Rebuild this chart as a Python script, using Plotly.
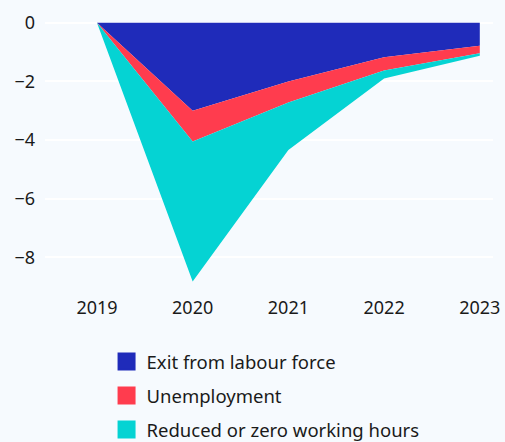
import plotly.graph_objects as go

years = [2019, 2020, 2021, 2022, 2023]
exit_labour_force = [0.0, -3.0, -2.0, -1.18, -0.79]
unemployment = [0.0, -1.05, -0.72, -0.45, -0.25]
reduced_hours = [0.0, -4.77, -1.62, -0.27, -0.09]

series = [
    ("Exit from labour force", exit_labour_force, "#1F2BBA"),
    ("Unemployment", unemployment, "#FF3C4E"),
    ("Reduced or zero working hours", reduced_hours, "#05D3D3"),
]

y_ticks = [0, -2, -4, -6, -8]
y_tick_text = ["0", "\u22122", "\u22124", "\u22126", "\u22128"]

font_family = "Noto Sans"
bg = "#F6FAFE"

fig = go.Figure()

# stacked areas
for name, values, color in series:
    fig.add_trace(go.Scatter(
        x=years, y=values, name=name, stackgroup="one",
        mode="lines", line=dict(width=0, color=color),
        fillcolor=color, showlegend=False, hoverinfo="skip",
    ))

# square legend swatches
for i, (name, values, color) in enumerate(series):
    fig.add_trace(go.Scatter(
        x=[None], y=[None], name=name, mode="markers",
        marker=dict(symbol="square", size=16, color=color,
                    line=dict(width=2, color=color)),
        legendgroup=f"g{i}", showlegend=True,
    ))

fig.update_layout(
    width=505, height=442,
    margin=dict(l=45, r=12, t=8, b=149, autoexpand=False),
    paper_bgcolor=bg, plot_bgcolor=bg,
    font=dict(family=font_family, size=18, color="#1a1a1a"),
    showlegend=True,
    legend=dict(
        orientation="v", xref="container", x=0.211, xanchor="left",
        yref="container", y=0.224, yanchor="top",
        traceorder="grouped", tracegroupgap=7,
        font=dict(size=18.5), bgcolor="rgba(0,0,0,0)",
    ),
    xaxis=dict(
        range=[2018.457, 2023.138], tickvals=years,
        showgrid=False, zeroline=False, showline=False, ticks="",
        ticklabelstandoff=2, fixedrange=True,
    ),
    yaxis=dict(
        range=[-9.21, 0.50], tickvals=y_ticks, ticktext=y_tick_text,
        showgrid=True, gridcolor="#FFFFFF", gridwidth=2,
        zeroline=False, showline=False, ticks="",
        ticklabelstandoff=9, layer="below traces",
    ),
)

fig.write_html("out.html")
